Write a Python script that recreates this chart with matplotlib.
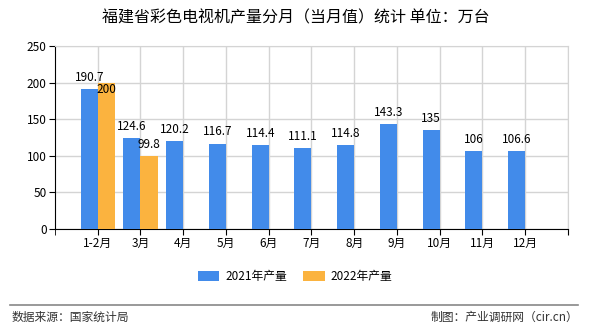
import matplotlib
matplotlib.use("Agg")
import matplotlib.pyplot as plt
import numpy as np

plt.rcParams['font.family'] = ['Noto Sans CJK SC', 'DejaVu Sans']

months = ['1-2月', '3月', '4月', '5月', '6月', '7月', '8月', '9月', '10月', '11月', '12月']
y2021 = [190.7, 124.6, 120.2, 116.7, 114.4, 111.1, 114.8, 143.3, 135, 106, 106.6]
y2022 = [200, 99.8]
yticks = [0, 50, 100, 150, 200, 250]

c_blue = '#428BEA'
c_orange = '#FBB33F'

fig = plt.figure(figsize=(5.9, 3.3), dpi=100)
ax = fig.add_axes([0.0932, 0.306, 0.8695, 0.5546])

x = np.arange(len(months))
w = 0.4
ax.bar(x - w/2, y2021, w, color=c_blue, label='2021年产量', zorder=3)
x2 = x[:len(y2022)]
ax.bar(x2 + w/2, y2022, w, color=c_orange, label='2022年产量', zorder=3)

# labels
for xi, v in zip(x, y2021):
    ax.text(xi - w/2, v + 7, f'{v:g}', ha='center', va='bottom', fontsize=8.5, zorder=4)
for xi, v in zip(x2, y2022):
    if v >= 200:
        # no room above, put it just under the top
        ax.text(xi + w/2, v - 1, f'{v:g}', ha='center', va='top', fontsize=8.5, zorder=4)
    else:
        ax.text(xi + w/2, v + 7, f'{v:g}', ha='center', va='bottom', fontsize=8.5, zorder=4)

ax.set_xlim(-1, len(months))
ax.set_ylim(0, 250)
ax.set_yticks(yticks)
ax.set_xticks(list(x) + [len(months)])
ax.set_xticklabels(months + [''])
ax.tick_params(axis='both', labelsize=8.5, length=4, direction='out', color='black', pad=2)
ax.set_xticks([-1], minor=True)
ax.tick_params(axis='x', which='minor', length=4, color='black')

ax.grid(True, color='#d4d4d4', linewidth=1, zorder=0)
for s in ['top', 'right']:
    ax.spines[s].set_color('#d4d4d4')
ax.spines['left'].set_color('black')
ax.spines['bottom'].set_color('black')

fig.text(0.502, 0.945, '福建省彩色电视机产量分月（当月值）统计 单位：万台', ha='center', va='center', fontsize=11.5)

leg = fig.legend(loc='center', bbox_to_anchor=(0.5, 0.163), ncol=2, frameon=False,
                 fontsize=8.5, handlelength=1.8, handleheight=0.9, columnspacing=1.4, handletextpad=0.5)

fig.add_artist(plt.Line2D([0.017, 0.98], [0.075, 0.075], color='#888888', linewidth=1.2))
fig.text(0.02, 0.038, '数据来源：国家统计局', ha='left', va='center', fontsize=8.5, color='#333333')
fig.text(0.98, 0.038, '制图：产业调研网（cir.cn）', ha='right', va='center', fontsize=8.5, color='#333333')

fig.savefig('out.png', dpi=100)
